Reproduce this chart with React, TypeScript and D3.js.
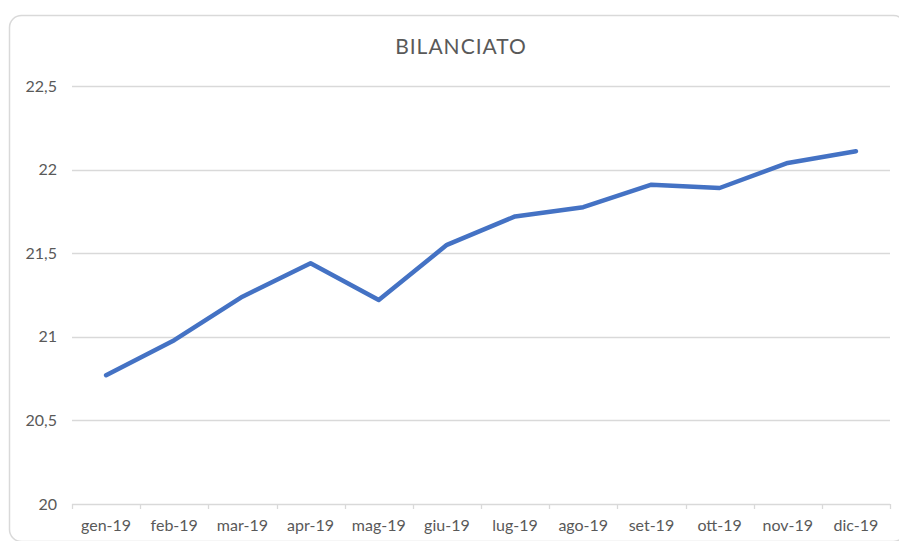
import React from "react";
import * as d3 from "d3";

const months = ["gen-19", "feb-19", "mar-19", "apr-19", "mag-19", "giu-19", "lug-19", "ago-19", "set-19", "ott-19", "nov-19", "dic-19"];
const values = [20.77, 20.98, 21.24, 21.44, 21.22, 21.55, 21.72, 21.775, 21.91, 21.89, 22.04, 22.11];
const yTicks = [20, 20.5, 21, 21.5, 22, 22.5];
const title = "BILANCIATO";

const W = 899;
const H = 541;
const left = 72;
const right = 890;
const top = 86;
const bottom = 504;
const font = "Lato, 'Open Sans', sans-serif";
const grid = "#d9d9d9";
const textCol = "#595959";

export default function App() {
  const x = d3.scaleBand<string>().domain(months).range([left, right]).padding(0);
  const y = d3.scaleLinear().domain([20, 22.5]).range([bottom, top]);
  const line = d3
    .line<number>()
    .x((_, i) => (x(months[i]) as number) + x.bandwidth() / 2)
    .y((d) => y(d));
  const fmt = (v: number) => String(v).replace(".", ",");
  const boundaries = months.map((m) => x(m) as number).concat([right]);

  return (
    <div style={{ position: "fixed", left: 0, top: 0 }}>
      <svg width={W} height={H} style={{ display: "block" }}>
        <rect x={0} y={0} width={W} height={H} fill="#fff" />
        <rect x={9.5} y={15.5} width={896} height={526} rx={12} ry={12} fill="#fff" stroke={grid} strokeWidth={1.5} />
        <text x={461} y={54} textAnchor="middle" fontFamily={font} fontSize={21} letterSpacing={1} fill={textCol}>
          {title}
        </text>
        {yTicks.map((t) => (
          <g key={t}>
            {t !== 20 && <line x1={left} x2={right} y1={Math.round(y(t)) + 0.5} y2={Math.round(y(t)) + 0.5} stroke={grid} strokeWidth={1.3} />}
            <text x={57} y={y(t) + 5.5} textAnchor="end" fontFamily={font} fontSize={16} fill={textCol}>
              {fmt(t)}
            </text>
          </g>
        ))}
        <line x1={left} x2={right} y1={bottom + 0.5} y2={bottom + 0.5} stroke={grid} strokeWidth={1.3} />
        {boundaries.map((b, i) => (
          <line key={i} x1={Math.round(b) + 0.5} x2={Math.round(b) + 0.5} y1={bottom} y2={bottom + 5} stroke={grid} strokeWidth={1.3} />
        ))}
        {months.map((m) => (
          <text key={m} x={(x(m) as number) + x.bandwidth() / 2} y={531} textAnchor="middle" fontFamily={font} fontSize={16} fill={textCol}>
            {m}
          </text>
        ))}
        <path d={line(values) || ""} fill="none" stroke="#4472C4" strokeWidth={4.5} strokeLinecap="round" strokeLinejoin="round" />
      </svg>
    </div>
  );
}
